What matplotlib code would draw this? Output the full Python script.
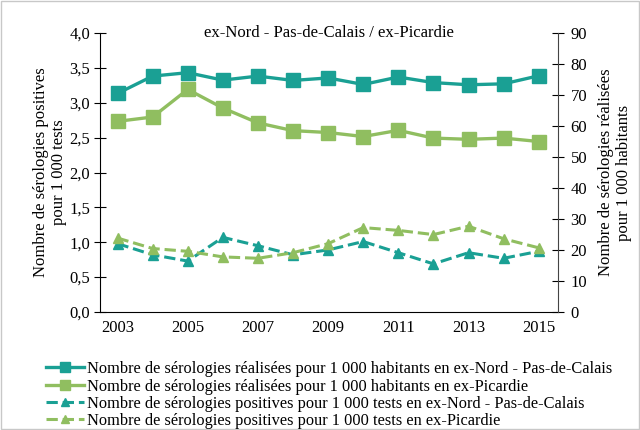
import matplotlib.pyplot as plt
from matplotlib.patches import Rectangle
from matplotlib.ticker import FuncFormatter

plt.rcParams['font.family'] = ['Liberation Serif', 'DejaVu Serif']

annees = list(range(2003, 2016))

# réalisées pour 1 000 habitants (axe droit)
realisees_npdc = [70.5, 76.1, 77.2, 74.8, 76.1, 74.7, 75.5, 73.4, 75.8, 74.0, 73.3, 73.6, 76.2]
realisees_pic = [61.5, 62.9, 71.8, 65.8, 61.0, 58.5, 57.9, 56.6, 58.6, 56.1, 55.7, 56.1, 55.0]

# positives pour 1 000 tests (axe gauche)
positives_npdc = [0.98, 0.82, 0.73, 1.07, 0.95, 0.82, 0.89, 1.01, 0.85, 0.69, 0.85, 0.77, 0.87]
positives_pic = [1.06, 0.91, 0.87, 0.79, 0.77, 0.85, 0.98, 1.21, 1.17, 1.11, 1.23, 1.05, 0.92]

teal = '#1aa094'
vert = '#90be60'

fig = plt.figure(figsize=(6.4, 4.3), dpi=100)
ax1 = fig.add_axes([100/640, 1-312/430, 458/640, 279/430])
ax2 = ax1.twinx()

l3, = ax1.plot(annees, positives_npdc, color=teal, ls='--', lw=2.2, marker='^', ms=7,
               label='Nombre de sérologies positives pour 1 000 tests en ex-Nord - Pas-de-Calais')
l4, = ax1.plot(annees, positives_pic, color=vert, ls='--', lw=2.2, marker='^', ms=7,
               label='Nombre de sérologies positives pour 1 000 tests en ex-Picardie')
l1, = ax2.plot(annees, realisees_npdc, color=teal, lw=2.4, marker='s', ms=10,
               label='Nombre de sérologies réalisées pour 1 000 habitants en ex-Nord - Pas-de-Calais')
l2, = ax2.plot(annees, realisees_pic, color=vert, lw=2.4, marker='s', ms=10,
               label='Nombre de sérologies réalisées pour 1 000 habitants en ex-Picardie')

ax1.set_xlim(2002.5, 2015.55)
ax1.set_ylim(0, 4)
ax2.set_ylim(0, 90)
ax1.set_yticks([i * 0.5 for i in range(9)])
ax2.set_yticks(range(0, 91, 10))
ax1.set_xticks(range(2003, 2016, 2))
ax1.yaxis.set_major_formatter(FuncFormatter(lambda v, p: f'{v:.1f}'.replace('.', ',')))

for ax in (ax1, ax2):
    ax.spines['top'].set_visible(False)
    ax.tick_params(labelsize=12)
ax1.spines['right'].set_visible(False)
ax2.spines['left'].set_visible(False)
ax2.spines['bottom'].set_visible(False)
ax2.spines['right'].set_color('#444444')
ax1.tick_params(axis='y', direction='inout', length=8, pad=3)
ax2.tick_params(axis='y', direction='inout', length=8, pad=5, colors='black')
ax1.tick_params(axis='x', length=0, pad=6)

ax1.set_ylabel('Nombre de sérologies positives\npour 1 000 tests', fontsize=12,
               linespacing=1.15, labelpad=2)
ax2.set_ylabel('Nombre de sérologies réalisées\npour 1 000 habitants', fontsize=12,
               linespacing=1.15, labelpad=8)
ax1.set_title('ex-Nord - Pas-de-Calais / ex-Picardie', fontsize=12, y=0.955)

fig.legend(handles=[l1, l2, l3, l4], loc='upper left', bbox_to_anchor=(38/640, 1-353/430),
           frameon=False, fontsize=11.8, handlelength=2.3, handletextpad=0.2,
           labelspacing=0.08, borderpad=0, markerscale=0.75)

fig.add_artist(Rectangle((0.002, 0.002), 0.996, 0.996, transform=fig.transFigure,
                         fill=False, edgecolor='#c8c8c8', lw=1))

fig.savefig('out.png', dpi=100)
